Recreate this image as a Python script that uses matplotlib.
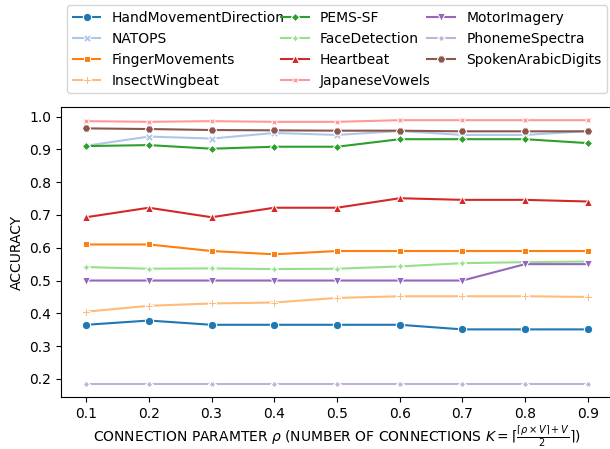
import numpy as np
import matplotlib
matplotlib.use("Agg")
import matplotlib.pyplot as plt

# connection parameter rho
rho = [0.1, 0.2, 0.3, 0.4, 0.5, 0.6, 0.7, 0.8, 0.9]

datasets = [
    "HandMovementDirection", "NATOPS", "FingerMovements", "InsectWingbeat",
    "PEMS-SF", "FaceDetection", "Heartbeat", "JapaneseVowels",
    "MotorImagery", "PhonemeSpectra", "SpokenArabicDigits",
]

hand_movement = [0.365, 0.378, 0.365, 0.365, 0.365, 0.365, 0.351, 0.351, 0.351]
natops = [0.911, 0.939, 0.933, 0.950, 0.944, 0.956, 0.944, 0.944, 0.956]
finger_movements = [0.61, 0.61, 0.59, 0.58, 0.59, 0.59, 0.59, 0.59, 0.59]
insect_wingbeat = [0.405, 0.423, 0.430, 0.433, 0.447, 0.452, 0.452, 0.452, 0.450]
pems_sf = [0.910, 0.913, 0.902, 0.908, 0.908, 0.931, 0.931, 0.931, 0.919]
face_detection = [0.541, 0.536, 0.537, 0.535, 0.536, 0.543, 0.553, 0.556, 0.558]
heartbeat = [0.693, 0.722, 0.693, 0.722, 0.722, 0.751, 0.746, 0.746, 0.741]
japanese_vowels = [0.986, 0.984, 0.986, 0.984, 0.984, 0.989, 0.989, 0.989, 0.989]
motor_imagery = [0.50, 0.50, 0.50, 0.50, 0.50, 0.50, 0.50, 0.55, 0.55]
phoneme_spectra = [0.185, 0.185, 0.185, 0.185, 0.185, 0.185, 0.185, 0.185, 0.185]
spoken_arabic = [0.964, 0.962, 0.959, 0.958, 0.957, 0.957, 0.955, 0.955, 0.955]

series = [
    hand_movement, natops, finger_movements, insect_wingbeat, pems_sf,
    face_detection, heartbeat, japanese_vowels, motor_imagery,
    phoneme_spectra, spoken_arabic,
]

# seaborn-style marker sequence
markers = ["o", "X", (4, 0, 45), "P", (4, 0, 0), (4, 1, 0), "^", (4, 1, 45), "v",
           (6, 1, 30), (6, 0, 30)]
colors = plt.get_cmap("tab20").colors

fig = plt.figure(figsize=(6.1, 4.49), dpi=100)
ax = fig.add_axes([0.1, 0.1158, 0.905, 0.6459])

for i, (name, vals) in enumerate(zip(datasets, series)):
    ax.plot(rho, vals, color=colors[i], marker=markers[i], markersize=6,
            markeredgecolor="w", markeredgewidth=0.75, linewidth=1.5, label=name)

ax.set_xticks(rho)
ax.set_yticks(np.arange(0.2, 1.01, 0.1))
ax.margins(x=0.05, y=0.05)
ax.spines["right"].set_visible(False)

ax.set_ylabel("ACCURACY")
ax.set_xlabel(r"CONNECTION PARAMTER $\rho$ (NUMBER OF CONNECTIONS "
              r"$K=\lceil\frac{\lceil\rho\times V\rceil+V}{2}\rceil$)", labelpad=2)

ax.legend(loc="lower center", bbox_to_anchor=(0.5, 1.048), ncol=3,
          borderaxespad=0, fontsize=10, columnspacing=-0.25)

plt.savefig("out.png", dpi=100)
